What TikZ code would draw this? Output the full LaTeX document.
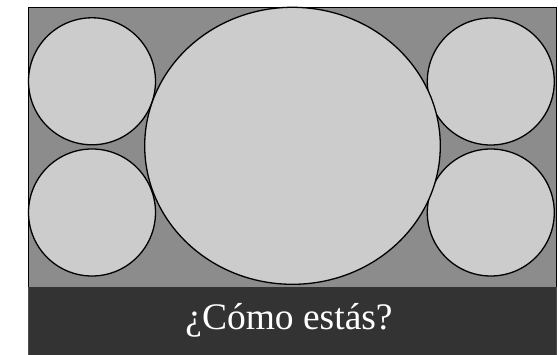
\documentclass[tikz,border=0pt]{standalone}
\usepackage{fontspec}
\setmainfont{Liberation Serif}
\definecolor{bggray}{HTML}{8C8C8C}
\definecolor{circgray}{HTML}{CCCCCC}
\definecolor{bandgray}{HTML}{333333}
\begin{document}
\begin{tikzpicture}[x=1pt,y=-1pt,
  disc/.style={draw=black,fill=circgray,line width=1.3pt}]
\useasboundingbox (0,0) rectangle (558,355);
\fill[white] (0,0) rectangle (558,355);
\draw[fill=bggray,draw=black,line width=0.8pt] (28,7) rectangle (556.5,287);
\fill[bandgray] (28,287) rectangle (556.5,355);
\draw[black!70,line width=0.6pt] (28,287) -- (28,355) (556.5,287) -- (556.5,355);
\draw[disc] (92,81.3) circle (63.5);
\draw[disc] (92,212.5) circle (63.5);
\draw[disc] (490.8,81.5) circle (63.5);
\draw[disc] (490.8,212.5) circle (63.5);
\draw[disc] (292.5,145.8) ellipse [x radius=147.8, y radius=138.5];
\node[text=white,font=\fontsize{37.5}{42}\selectfont,anchor=base,inner sep=0pt] (label) at (289,329.5) {¿Cómo estás?};
\end{tikzpicture}
\end{document}
